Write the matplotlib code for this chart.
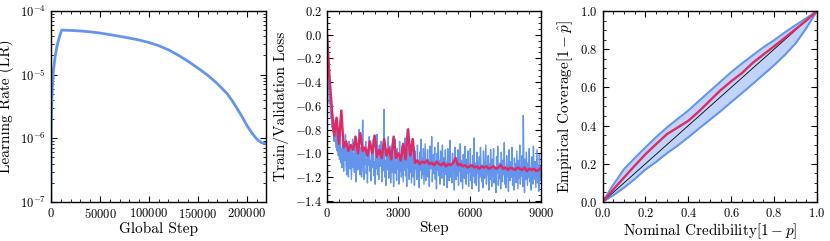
import numpy as np
import matplotlib
matplotlib.use('Agg')
import matplotlib.pyplot as plt
from matplotlib.ticker import AutoMinorLocator, MultipleLocator

plt.rcParams['font.family'] = 'serif'
plt.rcParams['font.serif'] = ['cmr10']
plt.rcParams['mathtext.fontset'] = 'cm'
plt.rcParams['axes.formatter.use_mathtext'] = True
plt.rcParams['axes.unicode_minus'] = True

blue = '#6495ED'
red = '#DE2A66'

# learning rate schedule (step, lr)
lr_steps = [0, 25, 50, 100, 200, 400, 800, 1500, 2500, 4000, 6000, 8000, 10000, 11000,
            20000, 30000, 40000, 50000, 60000, 70000, 80000, 90000, 100000, 110000,
            120000, 130000, 140000, 150000, 160000, 170000, 175000, 180000, 185000,
            190000, 195000, 200000, 205000, 210000, 215000, 219000]
lr_vals = [1e-8, 1.14e-7, 2.27e-7, 4.5e-7, 9.1e-7, 1.8e-6, 3.6e-6, 6.8e-6, 1.14e-5, 1.82e-5,
           2.73e-5, 3.64e-5, 4.55e-5, 5.0e-5,
           4.95e-5, 4.85e-5, 4.7e-5, 4.5e-5, 4.25e-5, 4.0e-5, 3.75e-5, 3.5e-5, 3.2e-5, 2.85e-5,
           2.45e-5, 2.02e-5, 1.62e-5, 1.27e-5, 9.8e-6, 7.2e-6, 6.0e-6, 5.0e-6, 3.9e-6,
           2.95e-6, 2.2e-6, 1.6e-6, 1.22e-6, 9.8e-7, 8.5e-7, 8.3e-7]

# train loss, one value every 25 steps
train_every = 25
train_loss = [
    0.02, -0.20, -0.38, -0.46, -0.58, -0.52, -0.70, -0.62, -0.78, -0.66,
    -0.82, -0.72, -0.90, -0.78, -0.86, -0.95, -0.74, -0.98, -0.85, -1.02,
    -0.90, -1.05, -0.80, -1.08, -0.96, -1.12, -0.88, -1.00, -1.15, -0.92,
    -1.06, -0.84, -1.10, -1.18, -0.95, -1.04, -1.20, -0.90, -1.08, -1.13,
    -0.96, -1.22, -1.05, -0.88, -1.12, -1.00, -1.16, -0.86, -1.10, -1.24,
    -1.02, -0.92, -1.14, -1.06, -0.80, -1.18, -1.08, -0.95, -1.20, -1.04,
    -0.72, -1.12, -1.22, -0.98, -1.09, -0.90, -1.17, -1.05, -1.25, -0.97,
    -1.10, -0.86, -1.15, -1.06, -1.23, -0.94, -1.12, -1.02, -0.88, -1.19,
    -1.07, -1.26, -0.96, -1.13, -0.84, -1.18, -1.04, -1.22, -0.93, -1.11,
    -1.08, -0.90, -1.24, -1.02, -1.15, -0.95, -0.63, -1.20, -1.06, -1.27,
    -0.98, -1.14, -1.05, -0.86, -1.21, -1.09, -0.94, -1.25, -1.03, -1.16,
    -0.92, -1.12, -1.28, -1.00, -0.88, -1.17, -1.07, -1.23, -0.96, -1.13,
    -1.05, -1.26, -0.90, -1.15, -1.02, -1.20, -0.94, -1.10, -1.24, -0.99,
    -1.14, -0.87, -1.19, -1.06, -1.28, -0.97, -1.12, -0.79, -1.22, -1.04,
    -1.16, -0.95, -1.25, -1.08, -0.91, -1.20, -1.03, -1.27, -0.98, -1.13,
    -1.06, -1.22, -0.93, -1.17, -1.09, -1.29, -0.99, -1.14, -0.88, -1.21,
    -1.04, -1.18, -0.96, -1.26, -1.10, -0.92, -1.23, -1.07, -1.15, -0.97,
    -1.20, -1.05, -1.28, -0.94, -1.13, -1.08, -0.86, -1.24, -1.11, -1.01,
    -1.17, -0.95, -1.22, -1.09, -1.30, -1.00, -1.14, -0.91, -1.19, -1.06,
    -1.26, -0.98, -1.12, -1.21, -0.93, -1.16, -1.04, -1.27, -1.10, -0.97,
    -1.18, -1.07, -1.29, -0.96, -1.14, -1.23, -1.02, -0.89, -1.20, -1.11,
    -1.25, -1.00, -1.16, -1.08, -1.31, -0.95, -1.13, -1.22, -1.04, -1.19,
    -0.97, -1.27, -1.10, -1.15, -0.92, -1.24, -1.06, -1.18, -1.30, -1.01,
    -1.14, -1.21, -0.94, -1.12, -1.26, -1.05, -1.17, -0.98, -1.28, -1.09,
    -1.16, -0.96, -1.23, -1.11, -1.30, -1.02, -1.19, -0.87, -1.25, -1.08,
    -1.14, -1.27, -0.99, -1.17, -1.07, -1.32, -1.03, -1.20, -0.95, -1.13,
    -1.24, -1.10, -1.29, -0.98, -1.15, -1.21, -1.06, -0.93, -1.26, -1.12,
    -1.18, -1.02, -1.31, -1.09, -1.22, -0.97, -1.16, -1.28, -1.05, -1.19,
    -0.96, -1.25, -1.12, -1.20, -1.33, -1.03, -1.17, -0.94, -1.27, -1.10,
    -1.21, -1.08, -1.30, -0.99, -1.15, -1.24, -1.06, -1.18, -0.91, -1.26,
    -1.13, -1.29, -1.02, -1.19, -1.10, -1.32, -0.97, -1.16, -1.23, -1.07,
    -1.20, -0.95, -1.27, -1.12, -1.31, -1.04, -1.18, -1.09, -1.25, -0.98,
    -1.15, -1.30, -1.06, -1.21, -0.93, -1.26, -1.11, -1.19, -1.02, -1.28,
    -0.68, -1.17, -1.33, -1.05, -1.22, -0.99, -1.14, -1.27, -1.08, -1.20,
    -0.96, -1.24, -1.12, -1.31, -1.03, -1.18, -1.26, -0.94, -1.16, -1.22,
    -1.07, -1.29, -1.13, -0.97, -1.25, -1.10, -1.32, -1.01, -1.19, -1.23,
    -1.12]

# validation loss, one value every 100 steps
val_every = 100
val_loss = [
    0.00, -0.35, -0.62, -0.85, -0.70, -0.92, -0.64, -0.95, -0.90, -0.98,
    -0.93, -0.97, -0.86, -1.00, -0.83, -0.98, -0.95, -1.02, -0.90, -1.00,
    -0.85, -1.03, -0.97, -1.04, -0.88, -1.02, -0.96, -1.05, -0.86, -1.04,
    -1.00, -1.06, -0.92, -1.05, -0.80, -1.02, -0.88, -1.08, -1.06, -1.09,
    -1.07, -1.08, -1.06, -1.09, -1.08, -1.10, -1.07, -1.09, -1.10, -1.08,
    -1.11, -1.09, -1.10, -1.08, -1.04, -1.10, -1.09, -1.11, -1.10, -1.12,
    -1.11, -1.10, -1.12, -1.11, -1.13, -1.11, -1.12, -1.11, -1.13, -1.12,
    -1.11, -1.13, -1.12, -1.10, -1.13, -1.12, -1.14, -1.12, -1.13, -1.14,
    -1.12, -1.13, -1.14, -1.12, -1.15, -1.13, -1.14, -1.13, -1.15, -1.14,
    -1.12]

# coverage curve
nominal = [0.0, 0.05, 0.1, 0.15, 0.2, 0.25, 0.3, 0.35, 0.4, 0.45, 0.5,
           0.55, 0.6, 0.65, 0.7, 0.75, 0.8, 0.85, 0.9, 0.95, 1.0]
coverage = [0.0, 0.065, 0.128, 0.19, 0.25, 0.303, 0.355, 0.39, 0.425, 0.475, 0.53,
            0.585, 0.632, 0.675, 0.728, 0.772, 0.815, 0.86, 0.905, 0.95, 1.0]
cov_upper = [0.0, 0.09, 0.172, 0.23, 0.286, 0.34, 0.39, 0.435, 0.479, 0.53, 0.58,
             0.63, 0.68, 0.725, 0.768, 0.81, 0.847, 0.888, 0.926, 0.962, 1.0]
cov_lower = [0.0, 0.035, 0.075, 0.12, 0.17, 0.21, 0.255, 0.295, 0.339, 0.385, 0.43,
             0.475, 0.523, 0.57, 0.618, 0.667, 0.716, 0.77, 0.83, 0.91, 1.0]

fig = plt.figure(figsize=(8.3, 2.41), dpi=100)
ax1 = fig.add_axes([0.0614, 0.162, 0.259, 0.7925])
ax2 = fig.add_axes([0.394, 0.162, 0.258, 0.7925])
ax3 = fig.add_axes([0.726, 0.162, 0.2584, 0.7925])


def style(ax):
    ax.tick_params(which='both', direction='in', top=True, right=True, labelsize=9)
    ax.tick_params(which='major', length=4)
    ax.tick_params(which='minor', length=2)
    for s in ax.spines.values():
        s.set_linewidth(1.0)


# panel 1 - learning rate
ax1.plot(lr_steps, lr_vals, color=blue, lw=2)
ax1.set_yscale('log')
ax1.set_ylim(1e-7, 1e-4)
ax1.set_xlim(0, 219500)
ax1.xaxis.set_major_locator(MultipleLocator(50000))
ax1.xaxis.set_minor_locator(AutoMinorLocator(5))
ax1.set_xlabel('Global Step', fontsize=11, labelpad=1)
ax1.set_ylabel('Learning Rate (LR)', fontsize=11)
style(ax1)

# panel 2 - loss
train_x = np.arange(len(train_loss)) * train_every
val_x = np.arange(len(val_loss)) * val_every
ax2.plot(train_x, train_loss, color=blue, lw=1.0)
ax2.plot(val_x, val_loss, color=red, lw=1.8)
ax2.set_xlim(0, 9000)
ax2.set_ylim(-1.41, 0.2)
ax2.xaxis.set_major_locator(MultipleLocator(3000))
ax2.xaxis.set_minor_locator(AutoMinorLocator(6))
ax2.yaxis.set_major_locator(MultipleLocator(0.2))
ax2.yaxis.set_minor_locator(AutoMinorLocator(4))
ax2.set_xlabel('Step', fontsize=11, labelpad=1)
ax2.set_ylabel('Train/Validation Loss', fontsize=11)
style(ax2)

# panel 3 - coverage
ax3.fill_between(nominal, cov_lower, cov_upper, color=blue, alpha=0.4, lw=0)
ax3.plot(nominal, cov_upper, color=blue, lw=1.5)
ax3.plot(nominal, cov_lower, color=blue, lw=1.5)
ax3.plot([0, 1], [0, 1], color='black', lw=0.6)
ax3.plot(nominal, coverage, color=red, lw=1.7)
ax3.set_xlim(0, 1)
ax3.set_ylim(0, 1)
ax3.xaxis.set_major_locator(MultipleLocator(0.2))
ax3.yaxis.set_major_locator(MultipleLocator(0.2))
ax3.xaxis.set_minor_locator(AutoMinorLocator(4))
ax3.yaxis.set_minor_locator(AutoMinorLocator(4))
ax3.set_xlabel(r'Nominal Credibility$[1-p]$', fontsize=11, labelpad=1)
ax3.set_ylabel(r'Empirical Coverage$[1-\hat{p}]$', fontsize=11)
style(ax3)

plt.savefig('out.png', dpi=100)
